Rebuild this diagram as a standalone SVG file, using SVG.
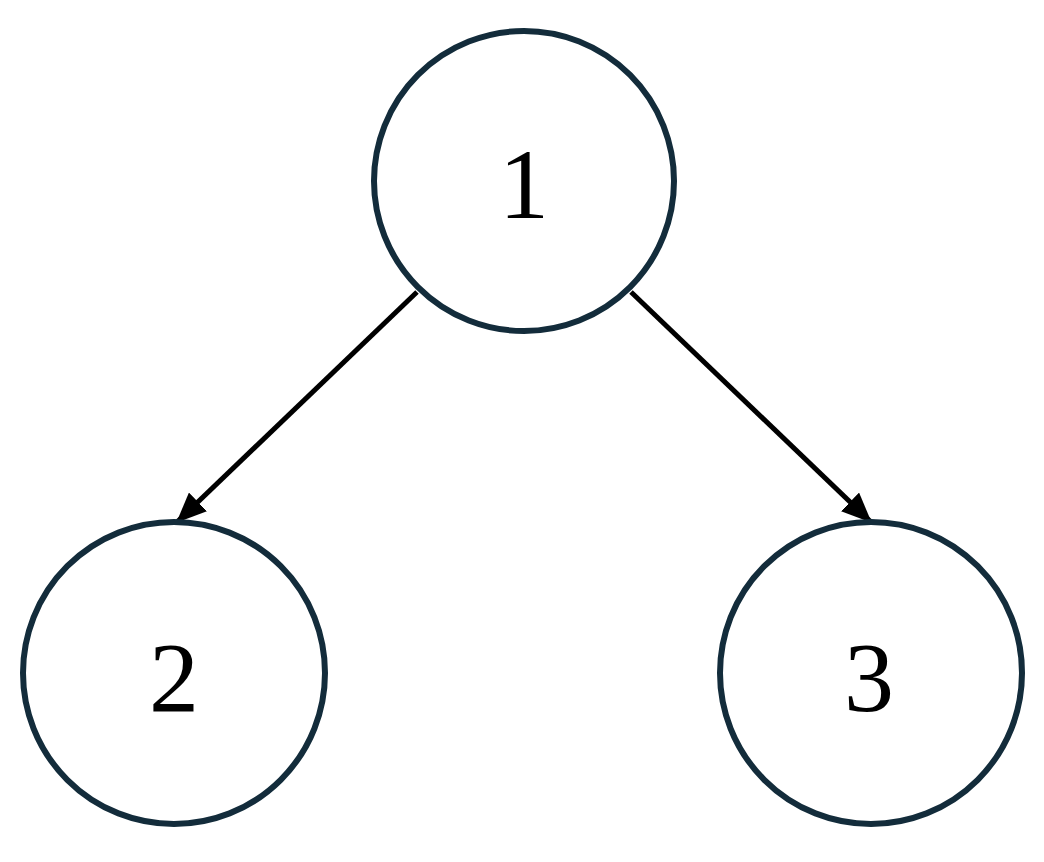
<svg xmlns="http://www.w3.org/2000/svg" width="1044" height="862" viewBox="0 0 1044 862">
<style>
.node circle{fill:#ffffff;stroke:#132c3b;stroke-width:6}
.node text{font-family:"Liberation Serif","Times New Roman",serif;font-size:100px;fill:#000;text-anchor:middle}
.edge{stroke:#000;stroke-width:5;fill:none}
</style>
<defs>
<marker id="ah" markerWidth="30" markerHeight="26" refX="29" refY="13" orient="auto" markerUnits="userSpaceOnUse">
<path d="M0,0 L30,13 L0,26 Z" fill="#000"/>
</marker>
</defs>
<rect width="1044" height="862" fill="#fff"/>
<g id="connectors">
<line class="edge" x1="417" y1="292" x2="177" y2="522" marker-end="url(#ah)"/>
<line class="edge" x1="631" y1="292" x2="871" y2="522" marker-end="url(#ah)"/>
</g>
<g id="node1" class="node">
<circle cx="524" cy="181" r="150"/>
<text x="524" y="218">1</text>
</g>
<g id="node2" class="node">
<circle cx="174" cy="673" r="151"/>
<text x="174" y="711">2</text>
</g>
<g id="node3" class="node">
<circle cx="871" cy="673" r="151"/>
<text x="869" y="711">3</text>
</g>
</svg>
